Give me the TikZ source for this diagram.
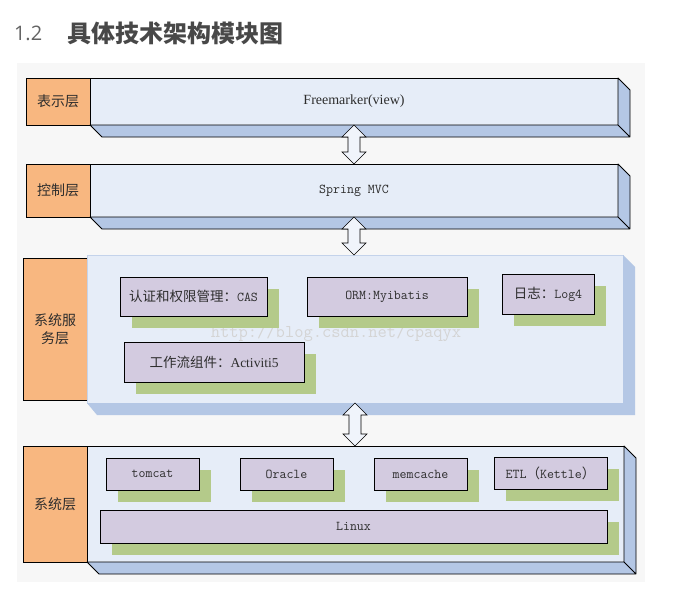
\documentclass[tikz,border=0pt]{standalone}
\usepackage{fontspec}
\setmainfont{Liberation Serif}
\newfontfamily\cjk{Noto Sans CJK SC}
\newfontfamily\numfont{Open Sans}
\usepackage{tikz}
\usetikzlibrary{positioning, calc, shadows}
\definecolor{panelgray}{RGB}{247, 247, 247}
\definecolor{layerblue}{RGB}{230, 237, 248}
\definecolor{sideblue}{RGB}{180, 199, 229}
\definecolor{edgeblue}{RGB}{196, 211, 235}
\definecolor{layerorange}{RGB}{248, 183, 128}
\definecolor{modpurple}{RGB}{211, 203, 224}
\definecolor{modgreen}{RGB}{180, 202, 138}
\definecolor{titlegray}{RGB}{72, 72, 72}
\definecolor{textdark}{RGB}{45, 45, 45}

\begin{document}
\begin{tikzpicture}[
    x=1pt, y=-1pt,
    every node/.style={inner sep=0pt, outer sep=0pt, align=center},
    lab/.style={draw=black, fill=layerorange, line width=0.8pt, minimum width=64pt, text=textdark, font=\cjk\fontsize{14}{18}\selectfont},
    layer/.style={draw=black, fill=layerblue, line width=0.8pt, text=textdark},
    mod/.style={draw=black, fill=modpurple, line width=0.8pt, text=textdark, font=\fontsize{13.5}{16}\selectfont,
        general shadow={fill=modgreen, shadow xshift=12pt, shadow yshift=-12pt}},
    side/.style={fill=sideblue, draw=black, line width=0.8pt, line join=round},
    dbl/.style={draw=black, fill=layerblue!60!white, line width=0.6pt, line join=miter}
]
\useasboundingbox (0,0) rectangle (687,591);
\fill[panelgray] (17,63) rectangle (645,582);

% Title
\node[anchor=west, font=\numfont\fontsize{20}{24}\selectfont, text=titlegray!85] (num) at (14,33) {1.2};
\node[anchor=west, font=\cjk\bfseries\fontsize{24}{28}\selectfont, text=titlegray] (title) at (67,33) {具体技术架构模块图};

% Layer 1: view
\node[lab, minimum height=47pt] (lab1) at (58,101.5) {表示层};
\node[layer, right=0pt of lab1, minimum width=528pt, minimum height=47pt, font=\fontsize{14}{16}\selectfont] (view) {Freemarker(view)};

% Layer 2: controller
\node[lab, minimum height=53pt] (lab2) at (58,190.5) {控制层};
\node[layer, right=0pt of lab2, minimum width=528pt, minimum height=53pt, font=\ttfamily\fontsize{13.5}{16}\selectfont] (ctrl) {Spring MVC};

% Layer 3: services
\node[lab, minimum height=142pt] (lab3) at (55,329) {系统服\\务层};
\node[layer, draw=edgeblue, right=0pt of lab3, minimum width=536pt, minimum height=148pt] (serv) {};
\draw[fill=sideblue, draw=none] (serv.north east) -- ++(12,12) -- ($(serv.south east)+(12,12)$) -- ($(serv.south west)+(10,12)$) -- (serv.south west) -- (serv.south east) -- cycle;

% Layer 4: system
\node[lab, minimum height=116pt] (lab4) at (55,504) {系统层};
\node[layer, right=0pt of lab4, minimum width=537pt, minimum height=116pt] (sys) {};

% 3D sides
\foreach \n in {view,ctrl,sys}
  \draw[side] (\n.north east) -- ++(12,12) -- ($(\n.south east)+(12,12)$) -- ($(\n.south west)+(12,12)$) -- (\n.south west) -- (\n.south east) -- cycle
    (\n.south east) -- ++(12,12);

% Watermark
\node[font=\ttfamily\fontsize{18}{20}\selectfont, text=black!17] (mark) at (336,333) {http://blog.csdn.net/cpaqyx};

% Service modules
\node[mod, minimum width=147pt, minimum height=39pt] (cas) at (193.5,296.5) {{\cjk 认证和权限管理：}{\ttfamily CAS}};
\node[mod, minimum width=160pt, minimum height=39pt] (orm) at (387,296.5) {\ttfamily ORM:Myibatis};
\node[mod, minimum width=92pt, minimum height=40pt] (log) at (548,294) {{\cjk 日志：}{\ttfamily Log4}};
\node[mod, minimum width=180pt, minimum height=40pt] (act) at (214,362) {{\cjk 工作流组件：}Activiti5};

% System modules
\node[mod, minimum width=93pt, minimum height=32pt] (tomcat) at (152.5,474) {\ttfamily tomcat};
\node[mod, minimum width=93pt, minimum height=32pt] (oracle) at (286.5,474) {\ttfamily Oracle};
\node[mod, minimum width=93pt, minimum height=32pt] (memc) at (420.5,474) {\ttfamily memcache};
\node[mod, minimum width=113pt, minimum height=32pt] (etl) at (550.5,473) {{\ttfamily ETL}{\cjk （}{\ttfamily Kettle}{\cjk ）}};
\node[mod, minimum width=507pt, minimum height=33pt] (linux) at (353.5,526.5) {\ttfamily Linux};

% Double block arrows between layers
\foreach \a/\b in {view/ctrl, ctrl/serv, serv/sys}
  \draw[dbl] let \p1=(\a.south), \p2=(\b.north) in
    (\x1,\y1) -- (\x1+12pt,\y1-12pt) -- (\x1+6pt,\y1-12pt) -- (\x1+6pt,\y2+12pt) -- (\x1+12pt,\y2+12pt)
    -- (\x1,\y2) -- (\x1-12pt,\y2+12pt) -- (\x1-6pt,\y2+12pt) -- (\x1-6pt,\y1-12pt) -- (\x1-12pt,\y1-12pt) -- cycle;

\end{tikzpicture}
\end{document}
